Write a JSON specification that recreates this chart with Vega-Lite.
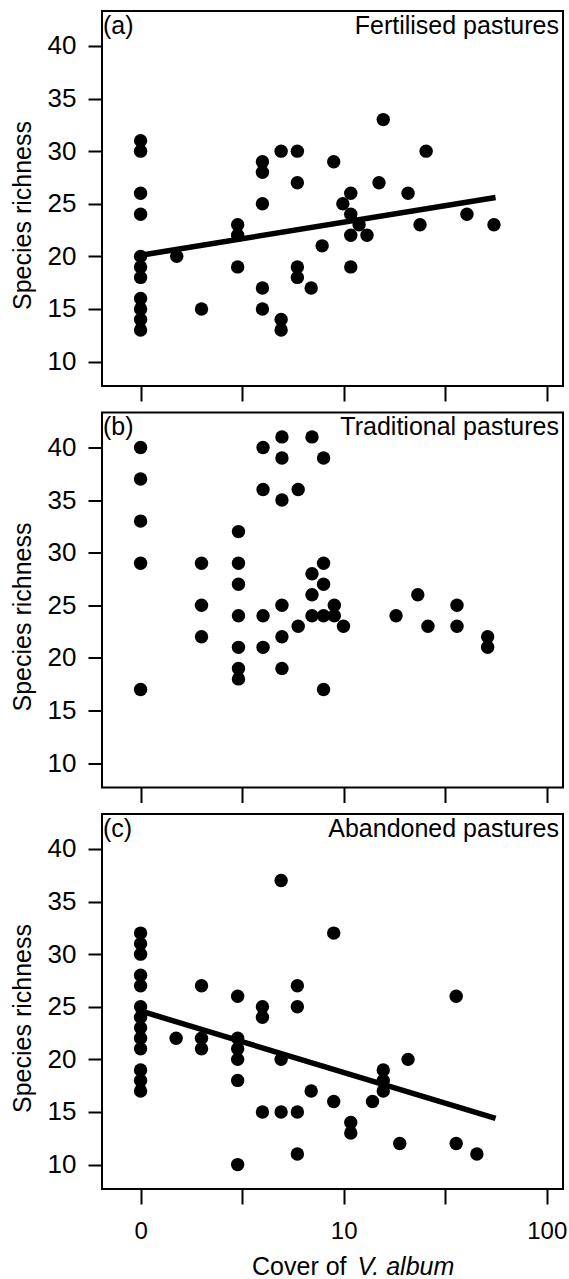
{
  "$schema": "https://vega.github.io/schema/vega-lite/v6.json",
  "padding": {"left": 9, "top": 10, "right": 0, "bottom": 0},
  "background": "white",
  "datasets": {
    "points": [
      {"panel": "a", "cover": 0, "richness": 31}, {"panel": "a", "cover": 0, "richness": 30}, {"panel": "a", "cover": 0, "richness": 26}, {"panel": "a", "cover": 0, "richness": 24}, {"panel": "a", "cover": 0, "richness": 20}, {"panel": "a", "cover": 0, "richness": 19}, {"panel": "a", "cover": 0, "richness": 18}, {"panel": "a", "cover": 0, "richness": 16}, {"panel": "a", "cover": 0, "richness": 15}, {"panel": "a", "cover": 0, "richness": 14}, {"panel": "a", "cover": 0, "richness": 13},
      {"panel": "a", "cover": 0.178, "richness": 20},
      {"panel": "a", "cover": 0.30, "richness": 15},
      {"panel": "a", "cover": 0.478, "richness": 23}, {"panel": "a", "cover": 0.478, "richness": 22}, {"panel": "a", "cover": 0.478, "richness": 19},
      {"panel": "a", "cover": 0.60, "richness": 29}, {"panel": "a", "cover": 0.60, "richness": 28}, {"panel": "a", "cover": 0.60, "richness": 25}, {"panel": "a", "cover": 0.60, "richness": 17}, {"panel": "a", "cover": 0.60, "richness": 15},
      {"panel": "a", "cover": 0.692, "richness": 30}, {"panel": "a", "cover": 0.692, "richness": 14}, {"panel": "a", "cover": 0.692, "richness": 13},
      {"panel": "a", "cover": 0.772, "richness": 30}, {"panel": "a", "cover": 0.772, "richness": 27}, {"panel": "a", "cover": 0.772, "richness": 19}, {"panel": "a", "cover": 0.772, "richness": 18},
      {"panel": "a", "cover": 0.84, "richness": 17},
      {"panel": "a", "cover": 0.894, "richness": 21},
      {"panel": "a", "cover": 0.951, "richness": 29},
      {"panel": "a", "cover": 0.996, "richness": 25},
      {"panel": "a", "cover": 1.035, "richness": 26}, {"panel": "a", "cover": 1.035, "richness": 24}, {"panel": "a", "cover": 1.035, "richness": 22}, {"panel": "a", "cover": 1.035, "richness": 19},
      {"panel": "a", "cover": 1.076, "richness": 23},
      {"panel": "a", "cover": 1.115, "richness": 22},
      {"panel": "a", "cover": 1.174, "richness": 27},
      {"panel": "a", "cover": 1.195, "richness": 33},
      {"panel": "a", "cover": 1.317, "richness": 26},
      {"panel": "a", "cover": 1.376, "richness": 23},
      {"panel": "a", "cover": 1.406, "richness": 30},
      {"panel": "a", "cover": 1.607, "richness": 24},
      {"panel": "a", "cover": 1.74, "richness": 23},

      {"panel": "b", "cover": 0, "richness": 40}, {"panel": "b", "cover": 0, "richness": 37}, {"panel": "b", "cover": 0, "richness": 33}, {"panel": "b", "cover": 0, "richness": 29}, {"panel": "b", "cover": 0, "richness": 17},
      {"panel": "b", "cover": 0.30, "richness": 29}, {"panel": "b", "cover": 0.30, "richness": 25}, {"panel": "b", "cover": 0.30, "richness": 22},
      {"panel": "b", "cover": 0.482, "richness": 32}, {"panel": "b", "cover": 0.482, "richness": 29}, {"panel": "b", "cover": 0.482, "richness": 27}, {"panel": "b", "cover": 0.482, "richness": 24}, {"panel": "b", "cover": 0.482, "richness": 21}, {"panel": "b", "cover": 0.482, "richness": 19}, {"panel": "b", "cover": 0.482, "richness": 18},
      {"panel": "b", "cover": 0.603, "richness": 40}, {"panel": "b", "cover": 0.603, "richness": 36}, {"panel": "b", "cover": 0.603, "richness": 24}, {"panel": "b", "cover": 0.603, "richness": 21},
      {"panel": "b", "cover": 0.696, "richness": 41}, {"panel": "b", "cover": 0.696, "richness": 39}, {"panel": "b", "cover": 0.696, "richness": 35}, {"panel": "b", "cover": 0.696, "richness": 25}, {"panel": "b", "cover": 0.696, "richness": 22}, {"panel": "b", "cover": 0.696, "richness": 19},
      {"panel": "b", "cover": 0.776, "richness": 36}, {"panel": "b", "cover": 0.776, "richness": 23},
      {"panel": "b", "cover": 0.844, "richness": 41}, {"panel": "b", "cover": 0.844, "richness": 28}, {"panel": "b", "cover": 0.844, "richness": 26}, {"panel": "b", "cover": 0.844, "richness": 24},
      {"panel": "b", "cover": 0.901, "richness": 39}, {"panel": "b", "cover": 0.901, "richness": 29}, {"panel": "b", "cover": 0.901, "richness": 27}, {"panel": "b", "cover": 0.901, "richness": 24}, {"panel": "b", "cover": 0.901, "richness": 17},
      {"panel": "b", "cover": 0.954, "richness": 25}, {"panel": "b", "cover": 0.954, "richness": 24},
      {"panel": "b", "cover": 0.999, "richness": 23},
      {"panel": "b", "cover": 1.258, "richness": 24},
      {"panel": "b", "cover": 1.365, "richness": 26},
      {"panel": "b", "cover": 1.415, "richness": 23},
      {"panel": "b", "cover": 1.558, "richness": 25}, {"panel": "b", "cover": 1.558, "richness": 23},
      {"panel": "b", "cover": 1.709, "richness": 22}, {"panel": "b", "cover": 1.709, "richness": 21},

      {"panel": "c", "cover": 0, "richness": 32}, {"panel": "c", "cover": 0, "richness": 31}, {"panel": "c", "cover": 0, "richness": 30}, {"panel": "c", "cover": 0, "richness": 28}, {"panel": "c", "cover": 0, "richness": 27}, {"panel": "c", "cover": 0, "richness": 25}, {"panel": "c", "cover": 0, "richness": 24}, {"panel": "c", "cover": 0, "richness": 23}, {"panel": "c", "cover": 0, "richness": 22}, {"panel": "c", "cover": 0, "richness": 21}, {"panel": "c", "cover": 0, "richness": 19}, {"panel": "c", "cover": 0, "richness": 18}, {"panel": "c", "cover": 0, "richness": 17},
      {"panel": "c", "cover": 0.175, "richness": 22},
      {"panel": "c", "cover": 0.30, "richness": 27}, {"panel": "c", "cover": 0.30, "richness": 22}, {"panel": "c", "cover": 0.30, "richness": 21},
      {"panel": "c", "cover": 0.478, "richness": 26}, {"panel": "c", "cover": 0.478, "richness": 22}, {"panel": "c", "cover": 0.478, "richness": 21}, {"panel": "c", "cover": 0.478, "richness": 20}, {"panel": "c", "cover": 0.478, "richness": 18}, {"panel": "c", "cover": 0.478, "richness": 10},
      {"panel": "c", "cover": 0.60, "richness": 25}, {"panel": "c", "cover": 0.60, "richness": 24}, {"panel": "c", "cover": 0.60, "richness": 15},
      {"panel": "c", "cover": 0.692, "richness": 37}, {"panel": "c", "cover": 0.692, "richness": 20}, {"panel": "c", "cover": 0.692, "richness": 15},
      {"panel": "c", "cover": 0.772, "richness": 27}, {"panel": "c", "cover": 0.772, "richness": 25}, {"panel": "c", "cover": 0.772, "richness": 15}, {"panel": "c", "cover": 0.772, "richness": 11},
      {"panel": "c", "cover": 0.84, "richness": 17},
      {"panel": "c", "cover": 0.951, "richness": 32}, {"panel": "c", "cover": 0.951, "richness": 16},
      {"panel": "c", "cover": 1.035, "richness": 14}, {"panel": "c", "cover": 1.035, "richness": 13},
      {"panel": "c", "cover": 1.142, "richness": 16},
      {"panel": "c", "cover": 1.195, "richness": 19}, {"panel": "c", "cover": 1.195, "richness": 18}, {"panel": "c", "cover": 1.195, "richness": 17},
      {"panel": "c", "cover": 1.276, "richness": 12},
      {"panel": "c", "cover": 1.317, "richness": 20},
      {"panel": "c", "cover": 1.554, "richness": 26}, {"panel": "c", "cover": 1.554, "richness": 12},
      {"panel": "c", "cover": 1.656, "richness": 11}
    ],
    "fits": [
      {"panel": "a", "cover": 0, "richness": 20.1}, {"panel": "a", "cover": 1.748, "richness": 25.6},
      {"panel": "c", "cover": 0, "richness": 24.6}, {"panel": "c", "cover": 1.748, "richness": 14.4}
    ],
    "labels": [
      {"panel": "a", "tag": "(a)", "name": "Fertilised pastures"},
      {"panel": "b", "tag": "(b)", "name": "Traditional pastures"},
      {"panel": "c", "tag": "(c)", "name": "Abandoned pastures"}
    ]
  },
  "spacing": 8.5,
  "vconcat": [
    {
      "width": 461, "height": 375,
      "layer": [
        {
          "data": {"name": "points"},
          "transform": [{"filter": "datum.panel === 'a'"}],
          "mark": {"type": "circle", "size": 180, "opacity": 1, "color": "black"},
          "encoding": {
            "x": {"field": "cover", "type": "quantitative", "scale": {"domain": [-0.19, 2.08], "nice": false, "zero": false},
                  "axis": {"values": [0, 0.5, 1, 1.5, 2], "labels": false, "tickSize": 15, "title": null}},
            "y": {"field": "richness", "type": "quantitative", "scale": {"domain": [7.68, 43.32], "nice": false, "zero": false},
                  "axis": {"values": [10, 15, 20, 25, 30, 35, 40], "tickSize": 14, "labelPadding": 12, "labelFontSize": 26, "title": "Species richness", "titleX": -72, "titleY": 204, "titleBaseline": "alphabetic", "titleAlign": "center", "titleAngle": 270}}
          }
        },
        {
          "data": {"name": "fits"},
          "transform": [{"filter": "datum.panel === 'a'"}],
          "mark": {"type": "line", "color": "black", "strokeWidth": 5.5},
          "encoding": {"x": {"field": "cover", "type": "quantitative"}, "y": {"field": "richness", "type": "quantitative"}}
        },
        {
          "data": {"name": "labels"},
          "transform": [{"filter": "datum.panel === 'a'"}],
          "mark": {"type": "text", "align": "left", "baseline": "alphabetic", "dx": 1, "dy": 22.5, "fontSize": 25, "color": "black"},
          "encoding": {"x": {"datum": -0.19, "type": "quantitative"}, "y": {"datum": 43.32, "type": "quantitative"}, "text": {"field": "tag"}}
        },
        {
          "data": {"name": "labels"},
          "transform": [{"filter": "datum.panel === 'a'"}],
          "mark": {"type": "text", "align": "right", "baseline": "alphabetic", "dx": -4, "dy": 22.5, "fontSize": 25, "color": "black"},
          "encoding": {"x": {"datum": 2.08, "type": "quantitative"}, "y": {"datum": 43.32, "type": "quantitative"}, "text": {"field": "name"}}
        }
      ]
    },
    {
      "width": 461, "height": 375,
      "layer": [
        {
          "data": {"name": "points"},
          "transform": [{"filter": "datum.panel === 'b'"}],
          "mark": {"type": "circle", "size": 180, "opacity": 1, "color": "black"},
          "encoding": {
            "x": {"field": "cover", "type": "quantitative", "scale": {"domain": [-0.19, 2.08], "nice": false, "zero": false},
                  "axis": {"values": [0, 0.5, 1, 1.5, 2], "labels": false, "tickSize": 15, "title": null}},
            "y": {"field": "richness", "type": "quantitative", "scale": {"domain": [7.68, 43.32], "nice": false, "zero": false},
                  "axis": {"values": [10, 15, 20, 25, 30, 35, 40], "tickSize": 14, "labelPadding": 12, "labelFontSize": 26, "title": "Species richness", "titleX": -72, "titleY": 204, "titleBaseline": "alphabetic", "titleAlign": "center", "titleAngle": 270}}
          }
        },
        {
          "data": {"name": "labels"},
          "transform": [{"filter": "datum.panel === 'b'"}],
          "mark": {"type": "text", "align": "left", "baseline": "alphabetic", "dx": 1, "dy": 22.5, "fontSize": 25, "color": "black"},
          "encoding": {"x": {"datum": -0.19, "type": "quantitative"}, "y": {"datum": 43.32, "type": "quantitative"}, "text": {"field": "tag"}}
        },
        {
          "data": {"name": "labels"},
          "transform": [{"filter": "datum.panel === 'b'"}],
          "mark": {"type": "text", "align": "right", "baseline": "alphabetic", "dx": -4, "dy": 22.5, "fontSize": 25, "color": "black"},
          "encoding": {"x": {"datum": 2.08, "type": "quantitative"}, "y": {"datum": 43.32, "type": "quantitative"}, "text": {"field": "name"}}
        }
      ]
    },
    {
      "width": 461, "height": 375,
      "resolve": {"axis": {"x": "independent"}},
      "layer": [
        {
          "data": {"name": "points"},
          "transform": [{"filter": "datum.panel === 'c'"}],
          "mark": {"type": "circle", "size": 180, "opacity": 1, "color": "black"},
          "encoding": {
            "x": {"field": "cover", "type": "quantitative", "scale": {"domain": [-0.19, 2.08], "nice": false, "zero": false},
                  "axis": {"orient": "bottom", "values": [0, 0.5, 1, 1.5, 2], "tickSize": 15, "labelPadding": 34, "labelBaseline": "alphabetic", "labelFlush": false, "labelOverlap": false, "labelBound": false,
                           "labelExpr": "datum.value == 0 ? '0' : datum.value == 1 ? '10' : datum.value == 2 ? '100' : ''",
                           "title": "Cover of", "titleFontSize": 25, "titleX": 244, "titleY": 85, "titleAlign": "right", "titleBaseline": "alphabetic"}},
            "y": {"field": "richness", "type": "quantitative", "scale": {"domain": [7.68, 43.32], "nice": false, "zero": false},
                  "axis": {"values": [10, 15, 20, 25, 30, 35, 40], "tickSize": 14, "labelPadding": 12, "labelFontSize": 26, "title": "Species richness", "titleX": -72, "titleY": 204, "titleBaseline": "alphabetic", "titleAlign": "center", "titleAngle": 270}}
          }
        },
        {
          "data": {"name": "fits"},
          "transform": [{"filter": "datum.panel === 'c'"}],
          "mark": {"type": "line", "color": "black", "strokeWidth": 5.5},
          "encoding": {
            "x": {"field": "cover", "type": "quantitative",
                  "axis": {"orient": "top", "labels": false, "ticks": false, "domain": false, "title": "V. album", "titleFontStyle": "italic", "titleFontSize": 25, "titleX": 255, "titleY": 460, "titleAlign": "left", "titleBaseline": "alphabetic"}},
            "y": {"field": "richness", "type": "quantitative"}
          }
        },
        {
          "data": {"name": "labels"},
          "transform": [{"filter": "datum.panel === 'c'"}],
          "mark": {"type": "text", "align": "left", "baseline": "alphabetic", "dx": 1, "dy": 22.5, "fontSize": 25, "color": "black"},
          "encoding": {"x": {"datum": -0.19, "type": "quantitative", "axis": null}, "y": {"datum": 43.32, "type": "quantitative"}, "text": {"field": "tag"}}
        },
        {
          "data": {"name": "labels"},
          "transform": [{"filter": "datum.panel === 'c'"}],
          "mark": {"type": "text", "align": "right", "baseline": "alphabetic", "dx": -4, "dy": 22.5, "fontSize": 25, "color": "black"},
          "encoding": {"x": {"datum": 2.08, "type": "quantitative", "axis": null}, "y": {"datum": 43.32, "type": "quantitative"}, "text": {"field": "name"}}
        }
      ]
    }
  ],
  "config": {
    "font": "Liberation Sans",
    "view": {"stroke": "black", "strokeWidth": 2},
    "axis": {"grid": false, "domain": false, "ticks": true, "tickColor": "black", "tickWidth": 2, "labelColor": "black", "labelFont": "Liberation Sans", "labelFontSize": 24, "titleFont": "Liberation Sans", "titleFontSize": 25, "titleFontWeight": "normal", "titleColor": "black"},
    "text": {"font": "Liberation Sans"}
  }
}
